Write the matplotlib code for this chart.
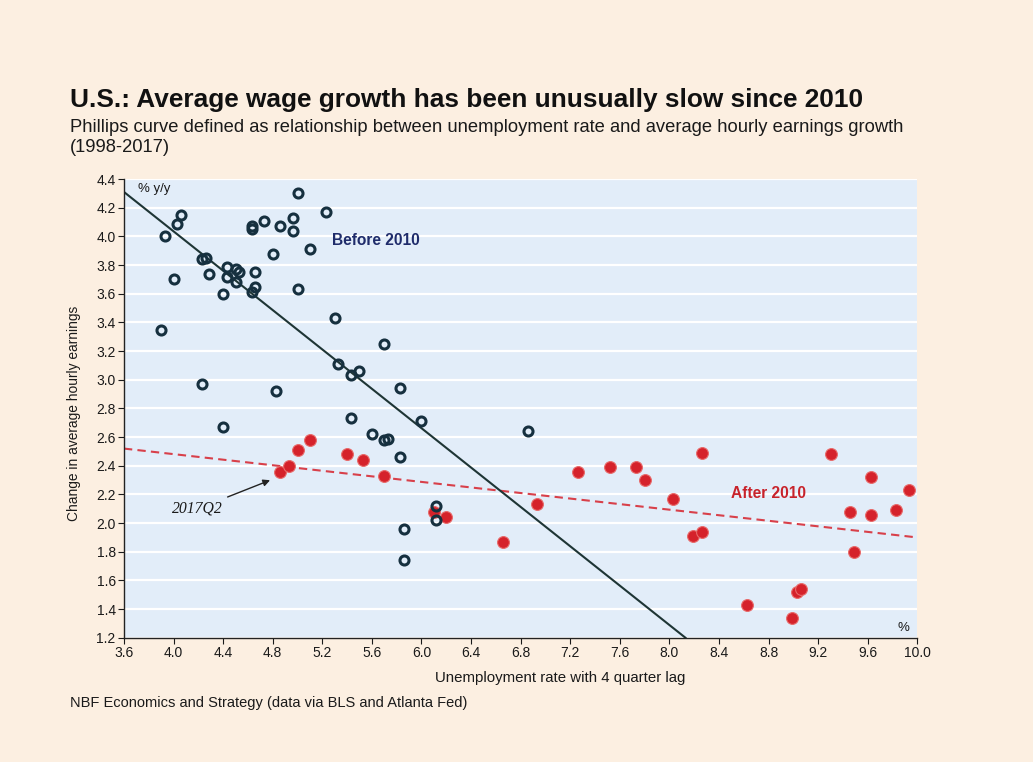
import matplotlib
matplotlib.use("Agg")
import matplotlib.pyplot as plt

# ---------------- data ----------------
before_x = [5.00, 5.23, 4.06, 4.03, 3.93, 4.73, 4.63, 4.63, 4.86, 4.96,
            4.96, 5.10, 4.80, 4.23, 4.26, 4.00, 4.29, 4.43, 4.50, 4.53,
            4.43, 4.50, 4.66, 4.66, 4.63, 4.40, 5.00, 5.30, 3.90, 5.70,
            5.33, 5.43, 5.50, 4.23, 4.83, 5.83, 4.40, 5.43, 6.00, 5.60,
            5.70, 5.73, 5.83, 5.86, 5.86, 6.12, 6.12, 6.86]
before_y = [4.30, 4.17, 4.15, 4.09, 4.00, 4.11, 4.07, 4.05, 4.07, 4.13,
            4.04, 3.91, 3.88, 3.84, 3.85, 3.70, 3.74, 3.79, 3.77, 3.75,
            3.72, 3.68, 3.75, 3.65, 3.61, 3.60, 3.63, 3.43, 3.35, 3.25,
            3.11, 3.03, 3.06, 2.97, 2.92, 2.94, 2.67, 2.73, 2.71, 2.62,
            2.58, 2.59, 2.46, 1.96, 1.74, 2.12, 2.02, 2.64]

after_x = [4.86, 4.93, 5.00, 5.10, 5.40, 5.53, 5.70, 6.10, 6.20, 6.66,
           6.93, 7.26, 7.52, 7.73, 7.80, 8.03, 8.26, 8.19, 8.26, 9.30,
           9.63, 9.93, 9.46, 9.63, 9.83, 9.49, 9.03, 9.06, 8.63, 8.99]
after_y = [2.36, 2.40, 2.51, 2.58, 2.48, 2.44, 2.33, 2.08, 2.04, 1.87,
           2.13, 2.36, 2.39, 2.39, 2.30, 2.17, 2.49, 1.91, 1.94, 2.48,
           2.32, 2.23, 2.08, 2.06, 2.09, 1.80, 1.52, 1.54, 1.43, 1.34]

# fitted trend lines (end points)
before_fit_x = [3.6, 8.13]
before_fit_y = [4.31, 1.20]
after_fit_x = [3.6, 10.0]
after_fit_y = [2.52, 1.90]

x_ticks = [3.6, 4.0, 4.4, 4.8, 5.2, 5.6, 6.0, 6.4, 6.8, 7.2, 7.6, 8.0,
           8.4, 8.8, 9.2, 9.6, 10.0]
y_ticks = [1.2, 1.4, 1.6, 1.8, 2.0, 2.2, 2.4, 2.6, 2.8, 3.0, 3.2, 3.4,
           3.6, 3.8, 4.0, 4.2, 4.4]

label_2017 = (4.81, 2.31)   # annotated point (2017Q2)

# ---------------- style ----------------
plt.rcParams['font.family'] = ['Liberation Sans', 'DejaVu Sans']
PEACH = '#FCEFE1'
PLOTBG = '#E2EDF9'
NAVY = '#16303F'
RED = '#D5222B'
TXT = '#1A1A1A'

fig = plt.figure(figsize=(10.33, 7.62), dpi=100, facecolor=PEACH)
ax = fig.add_axes([0.120, 0.163, 0.768, 0.602])
ax.set_facecolor(PLOTBG)

ax.set_xlim(3.6, 10.0)
ax.set_ylim(1.2, 4.4)
ax.set_xticks(x_ticks)
ax.set_xticklabels([f"{v:.1f}" for v in x_ticks])
ax.set_yticks(y_ticks)
ax.set_yticklabels([f"{v:.1f}" for v in y_ticks])
ax.tick_params(axis='both', labelsize=10, colors=TXT, length=4, width=0.8,
               direction='out', pad=2)
ax.yaxis.grid(True, color='white', lw=1.6)
ax.xaxis.grid(False)
ax.set_axisbelow(True)
for s in ['top', 'right']:
    ax.spines[s].set_visible(False)
for s in ['left', 'bottom']:
    ax.spines[s].set_color('#222222')
    ax.spines[s].set_linewidth(1.0)

# trend lines
ax.plot(after_fit_x, after_fit_y, color='#D8404A', lw=1.5, dashes=(4, 2.5), zorder=2)
ax.plot(before_fit_x, before_fit_y, color='#1E3535', lw=1.5, zorder=2)

# points
ax.plot(after_x, after_y, 'o', ms=8.5, color=RED, mec='#E86A6A', mew=0.8, zorder=3)
ax.plot(before_x, before_y, 'o', ms=6.5, mfc='none', mec=NAVY, mew=2.2, zorder=4)

# labels inside the plot
ax.text(5.63, 3.97, 'Before 2010', color='#1F2C6B', fontsize=11.2, fontweight='bold',
        ha='center', va='center')
ax.text(8.80, 2.21, 'After 2010', color='#C8232B', fontsize=11.2, fontweight='bold',
        ha='center', va='center')
ax.text(3.71, 4.33, '% y/y', fontsize=9.5, color=TXT, ha='left', va='center')
ax.text(9.89, 1.27, '%', fontsize=9.5, color=TXT, ha='center', va='center')

ax.annotate('2017Q2', xy=label_2017, xytext=(4.40, 2.10),
            fontsize=11.3, fontstyle='italic', family=['Liberation Serif', 'DejaVu Serif'],
            ha='right', va='center', color=TXT,
            arrowprops=dict(arrowstyle='-|>', color='#222222', lw=1.0,
                            shrinkA=2, shrinkB=3, mutation_scale=10))

ax.set_xlabel('Unemployment rate with 4 quarter lag', fontsize=10.8, color=TXT)
ax.xaxis.set_label_coords(0.55, -0.072)
ax.set_ylabel('Change in average hourly earnings', fontsize=9.9, color=TXT)
ax.yaxis.set_label_coords(-0.054, 0.49)

# titles and source
fig.text(70 / 1033, 1 - 100 / 762, 'U.S.: Average wage growth has been unusually slow since 2010',
         fontsize=18.9, fontweight='bold', color='#111111', ha='left', va='center')
fig.text(70 / 1033, 1 - 127 / 762,
         'Phillips curve defined as relationship between unemployment rate and average hourly earnings growth',
         fontsize=13.2, color=TXT, ha='left', va='center')
fig.text(70 / 1033, 1 - 148 / 762, '(1998-2017)', fontsize=13.2, color=TXT, ha='left', va='center')
fig.text(70 / 1033, 1 - 703 / 762, 'NBF Economics and Strategy (data via BLS and Atlanta Fed)',
         fontsize=10.5, color=TXT, ha='left', va='center')

fig.savefig('out.png', dpi=100, facecolor=PEACH)
